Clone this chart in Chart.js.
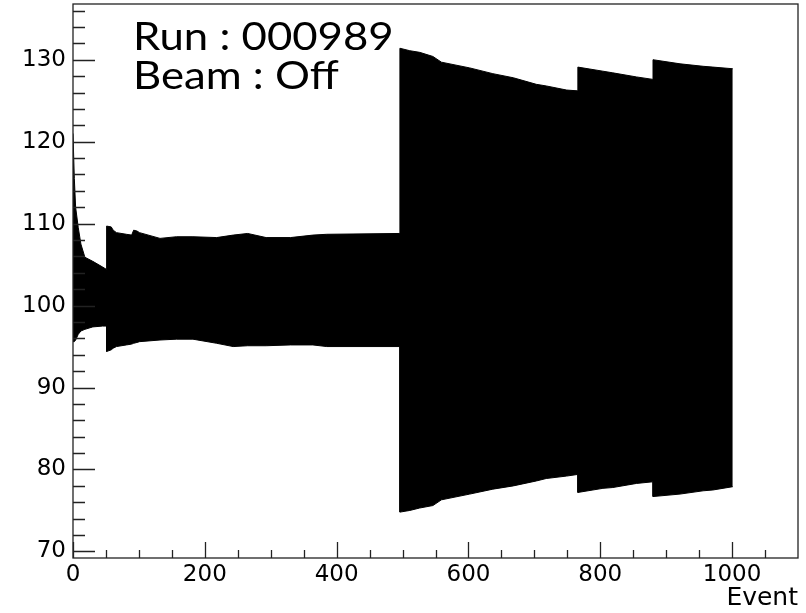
<!DOCTYPE html>
<html>
<head>
<meta charset="utf-8">
<title>Run 000989</title>
<script src="https://cdn.jsdelivr.net/npm/chart.js@4.4.1/dist/chart.umd.min.js"></script>
<style>
	html, body { margin: 0; padding: 0; background: #fff; }
	#eventChart { display: block; }
</style>
</head>
<body>
<canvas id="eventChart" width="806" height="613"></canvas>
<script>
// envelope of the oscillating trace (same event list for both edges)
var events = [0, 2, 4, 8, 12, 18, 30, 45, 51,
	51, 58, 61, 66, 81, 89, 92, 97, 101, 132, 157, 182, 218, 243, 265, 293, 330, 364, 385, 496,
	496, 511, 526, 546, 559, 602, 637, 668, 703, 718, 749, 766,
	766, 804, 819, 855, 880,
	880, 921, 956, 971, 1001];
var upperEdge = [121, 115.5, 112, 109.5, 107.5, 105.9, 105.4, 104.7, 104.4,
	109.7, 109.6, 109.2, 108.9, 108.7, 108.6, 109.2, 109.1, 108.9, 108.2, 108.4, 108.4, 108.3, 108.6, 108.8, 108.3, 108.3, 108.6, 108.7, 108.8,
	131.4, 131.1, 130.9, 130.4, 129.7, 129.0, 128.3, 127.8, 127.0, 126.8, 126.3, 126.2,
	129.1, 128.6, 128.4, 127.9, 127.6,
	130.0, 129.5, 129.2, 129.1, 128.9];
var lowerEdge = [95.6, 95.6, 95.8, 96.5, 96.9, 97.1, 97.4, 97.5, 97.5,
	94.4, 94.6, 94.8, 95.0, 95.2, 95.3, 95.4, 95.5, 95.6, 95.8, 95.9, 95.9, 95.4, 95.0, 95.1, 95.1, 95.2, 95.2, 95.0, 95.0,
	74.8, 75.0, 75.3, 75.6, 76.3, 77.0, 77.6, 78.0, 78.6, 78.9, 79.2, 79.4,
	77.2, 77.7, 77.8, 78.3, 78.5,
	76.7, 77.0, 77.4, 77.5, 77.9];

var xTicks = [0, 200, 400, 600, 800, 1000];
var yTicks = [70, 80, 90, 100, 110, 120, 130];
var infoLines = ["Run : 000989", "Beam : Off"];

(function() {
	/* "use strict" */

	var toPoints = function(values){
		return events.map(function(e, i){ return {x: e, y: values[i]}; });
	}

	// ROOT style frame, ticks drawn inside the frame
	var rootFrame = {
		id: 'rootFrame',
		afterDraw: function(chart){
			var ctx = chart.ctx;
			var area = chart.chartArea;
			var xs = chart.scales.x, ys = chart.scales.y;
			var v, px;
			ctx.save();
			ctx.strokeStyle = '#222';
			ctx.lineWidth = 1.3;
			ctx.strokeRect(area.left, area.top, area.right - area.left, area.bottom - area.top);
			ctx.beginPath();
			for(v = 0; v < xs.max; v += 50){
				px = Math.round(xs.getPixelForValue(v)) + 0.5;
				ctx.moveTo(px, area.bottom);
				ctx.lineTo(px, area.bottom - (v % 200 === 0 ? 16 : 8));
			}
			for(v = 70; v < ys.max; v += 2){
				px = Math.round(ys.getPixelForValue(v)) + 0.5;
				ctx.moveTo(area.left, px);
				ctx.lineTo(area.left + (v % 10 === 0 ? 22 : 12), px);
			}
			ctx.stroke();

			// run info, wide Calibri-like lettering
			ctx.fillStyle = '#000';
			ctx.font = '38px Lato';
			ctx.textBaseline = 'alphabetic';
			infoLines.forEach(function(line, i){
				ctx.save();
				ctx.translate(area.left + 60, 50 + i * 39);
				ctx.scale(1.15, 1);
				ctx.fillText(line, 0, 0);
				ctx.restore();
			});
			ctx.restore();
		}
	};

	var envelopeChart = function(){
		var el = document.getElementById('eventChart');
		if(!el) return;

		var config = {
			type: 'line',
			data: {
				datasets: [
					{
						label: 'upper',
						data: toPoints(upperEdge),
						borderColor: '#000',
						borderWidth: 1,
						pointRadius: 0,
						tension: 0,
						fill: false
					},
					{
						label: 'lower',
						data: toPoints(lowerEdge),
						borderColor: '#000',
						borderWidth: 1,
						pointRadius: 0,
						tension: 0,
						backgroundColor: '#000',
						fill: '-1'
					}
				]
			},
			options: {
				responsive: false,
				animation: false,
				layout: { padding: { top: 4, right: 8, left: 0, bottom: 0 } },
				plugins: {
					legend: false,
					tooltip: { enabled: false }
				},
				scales: {
					x: {
						type: 'linear',
						min: 0,
						max: 1100,
						grid: { display: false, drawTicks: false },
						border: { display: false },
						afterBuildTicks: function(scale){
							scale.ticks = xTicks.map(function(v){ return {value: v}; });
						},
						afterFit: function(scale){
							scale.height = 55;
							scale.paddingLeft = 0;
							scale.paddingRight = 0;
						},
						ticks: {
							padding: 3,
							maxRotation: 0,
							color: '#000',
							font: { family: 'DejaVu Sans', size: 23 },
							callback: function(value){ return String(value); }
						},
						title: {
							display: true,
							text: 'Event',
							align: 'end',
							color: '#000',
							padding: { top: 0, bottom: 0 },
							font: { family: 'DejaVu Sans', size: 25 }
						}
					},
					y: {
						min: 69.2,
						max: 136.8,
						grid: { display: false, drawTicks: false },
						border: { display: false },
						afterBuildTicks: function(scale){
							scale.ticks = yTicks.map(function(v){ return {value: v}; });
						},
						afterFit: function(scale){
							scale.width = 73;
							scale.paddingTop = 0;
							scale.paddingBottom = 0;
						},
						ticks: {
							padding: 7,
							color: '#000',
							font: { family: 'DejaVu Sans', size: 23 },
							callback: function(value){ return String(value); }
						}
					}
				}
			},
			plugins: [rootFrame]
		};

		new Chart(el.getContext('2d'), config);
	}

	envelopeChart();
})();
</script>
</body>
</html>
